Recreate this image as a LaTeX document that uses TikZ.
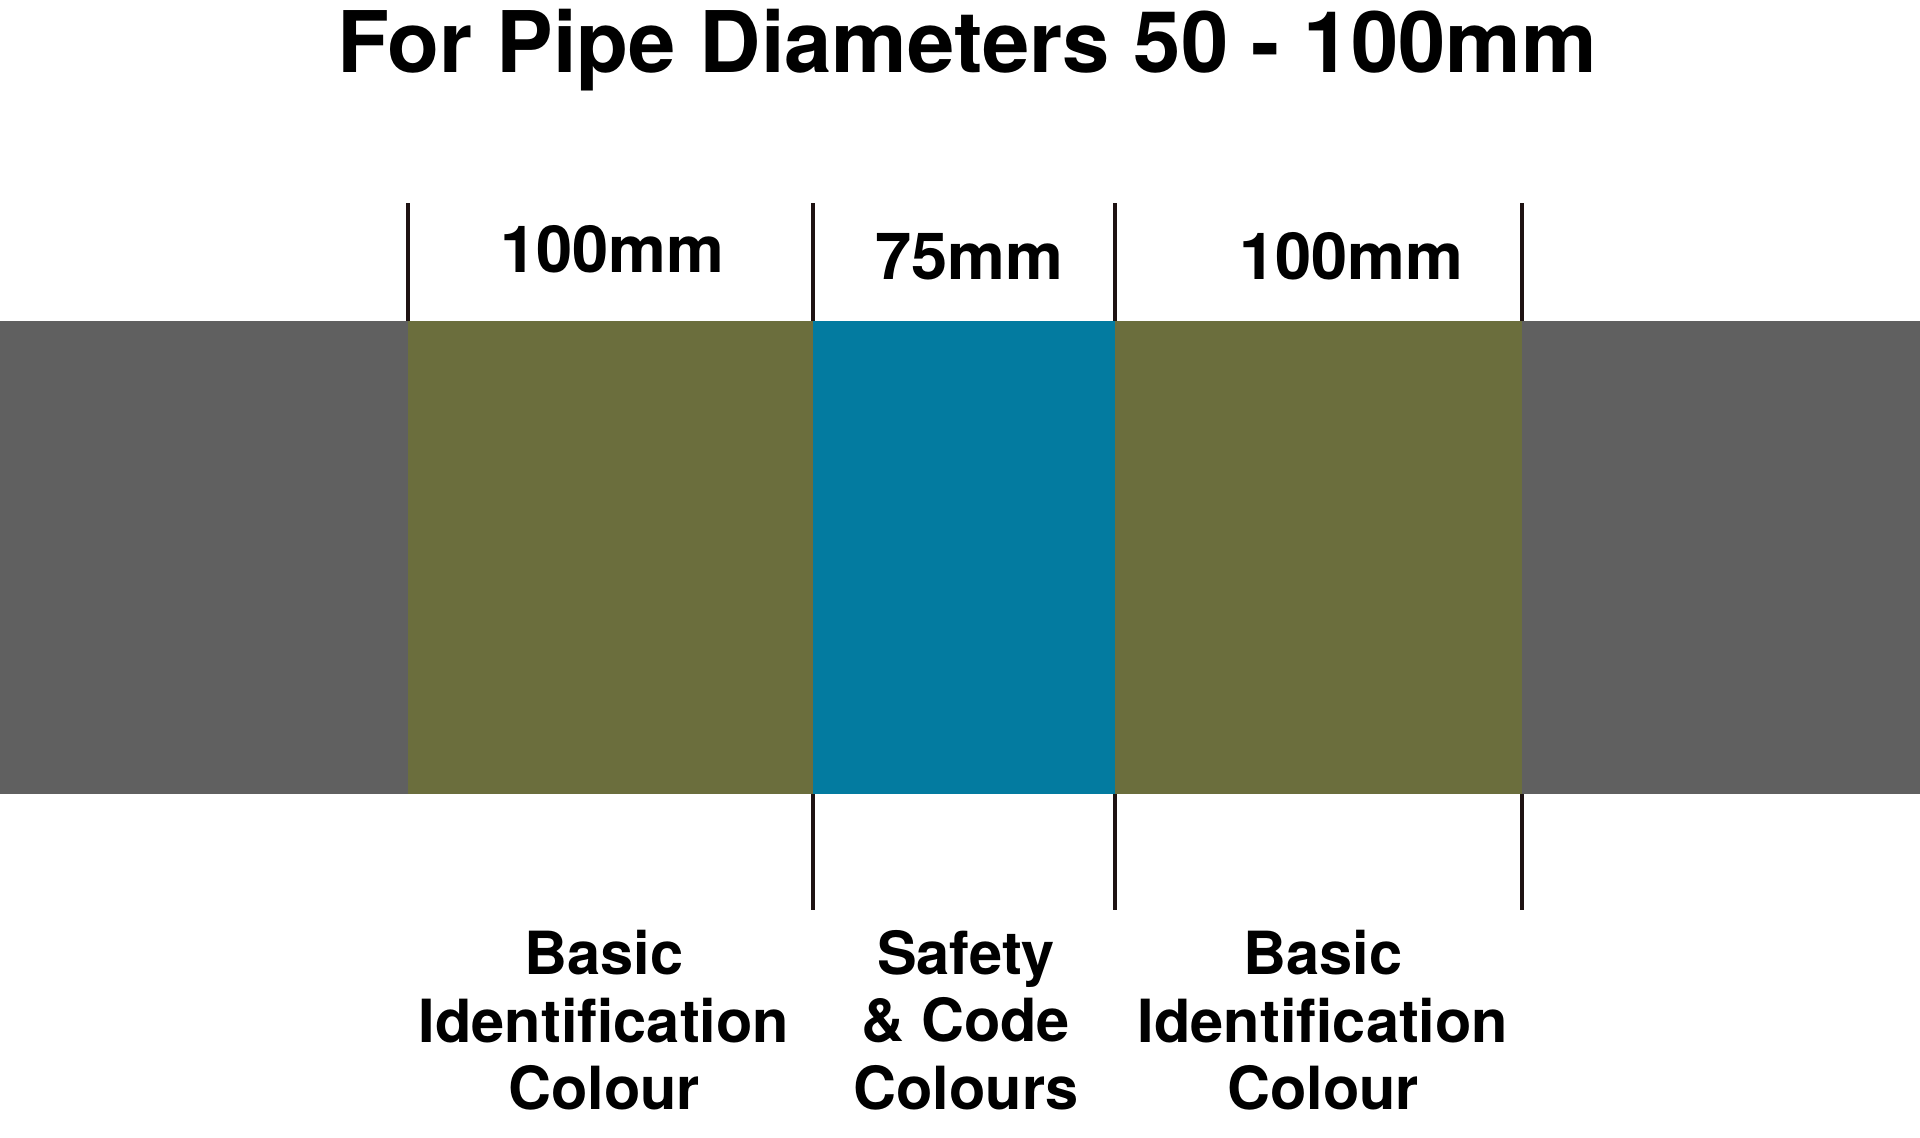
\documentclass[tikz,border=0pt]{standalone}
\usepackage{fontspec}
\setmainfont{TeX Gyre Heros}
\usetikzlibrary{calc}
\definecolor{pipegrey}{HTML}{606060}
\definecolor{basicolive}{HTML}{6B6E3D}
\definecolor{safetyblue}{HTML}{037BA0}
\definecolor{tickbrown}{HTML}{1E1212}
\tikzset{
	tick/.style={line width=4.5pt, color=tickbrown},
	sizelabel/.style={anchor=base, inner sep=0pt, font=\fontsize{65}{78}\selectfont\bfseries},
	bandlabel/.style={anchor=north, inner sep=0pt, align=center, font=\fontsize{59.5}{67.5}\selectfont\bfseries}
}

\begin{document}
\begin{tikzpicture}[x=1pt, y=-1pt]
		%%%%% START %%%%%
		
		\useasboundingbox[fill=white] (0, 0) rectangle (1920, 1138);
		
		\node[anchor=base, inner sep=0pt, font=\fontsize{85}{100}\selectfont\bfseries] (title) at (967, 72) {For Pipe Diameters 50 - 100mm};
		
		\fill[pipegrey] (0, 321) rectangle (1920, 794);
		\fill[basicolive] (408, 321) rectangle (813, 794);
		\fill[safetyblue] (813, 321) rectangle (1115, 794);
		\fill[basicolive] (1115, 321) rectangle (1522, 794);
		
		\draw[tick] (408, 203) -- (408, 321);
		\draw[tick] (813, 203) -- (813, 321);
		\draw[tick] (1115, 203) -- (1115, 321);
		\draw[tick] (1522, 203) -- (1522, 321);
		
		\draw[tick] (813, 794) -- (813, 910);
		\draw[tick] (1115, 794) -- (1115, 910);
		\draw[tick] (1522, 794) -- (1522, 910);
		
		\node[sizelabel] (leftsize) at (612, 272) {100mm};
		\node[sizelabel] (midsize) at (969, 279) {75mm};
		\node[sizelabel] (rightsize) at (1351, 279) {100mm};
		
		\node[bandlabel] (leftband) at (604, 930) {Basic\\Identification\\Colour};
		\node[bandlabel] (midband) at (966, 930) {Safety\\\& Code\\Colours};
		\node[bandlabel] (rightband) at (1323, 930) {Basic\\Identification\\Colour};
		
		%%%%% END %%%%%
	\end{tikzpicture}
\end{document}
